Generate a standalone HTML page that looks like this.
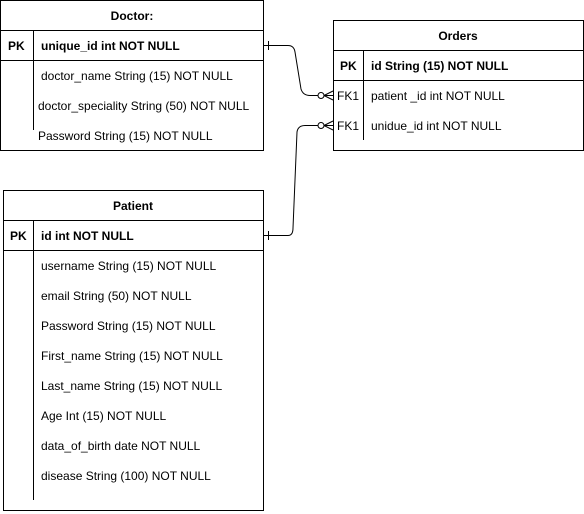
<!DOCTYPE html>
<html><head><style>
body{margin:0;width:584px;height:511px;background:#fff;font-family:"Liberation Sans",Arial,sans-serif;font-size:12px;}
svg text{font-family:"Liberation Sans",Arial,sans-serif;font-size:12px;fill:#000}
</style></head><body>
<svg width="584" height="511" viewBox="0 0 584 511" xmlns="http://www.w3.org/2000/svg">
<g fill="none" stroke="#000" stroke-width="1">
<!-- Doctor -->
<rect x="0.5" y="0.5" width="263" height="150"/>
<line x1="0.5" y1="30.5" x2="263.5" y2="30.5"/>
<line x1="0.5" y1="60.5" x2="263.5" y2="60.5"/>
<line x1="33.5" y1="30.5" x2="33.5" y2="130"/>
<!-- Orders -->
<rect x="333.5" y="20.5" width="250" height="130"/>
<line x1="333.5" y1="50.5" x2="583.5" y2="50.5"/>
<line x1="333.5" y1="80.5" x2="583.5" y2="80.5"/>
<line x1="363.5" y1="50.5" x2="363.5" y2="140"/>
<!-- Patient -->
<rect x="3.5" y="190.5" width="260" height="320"/>
<line x1="3.5" y1="220.5" x2="263.5" y2="220.5"/>
<line x1="3.5" y1="250.5" x2="263.5" y2="250.5"/>
<line x1="33.5" y1="220.5" x2="33.5" y2="500"/>
<!-- connectors -->
<path d="M264 45.5 H288 Q294 45.5 295 52 L301 89 Q303 95.5 310 95.5 H318"/>
<line x1="268.5" y1="41" x2="268.5" y2="50"/>
<circle cx="321" cy="95.5" r="3"/>
<path d="M324 95.5 H333 M324 95.5 L333 91 M324 95.5 L333 100"/>
<path d="M264 235.5 H288 Q293 235.5 293 228 L297 132 Q298 125.5 305 125.5 H318"/>
<line x1="268.5" y1="231" x2="268.5" y2="240"/>
<circle cx="321" cy="125.5" r="3"/>
<path d="M324 125.5 H333 M324 125.5 L333 121 M324 125.5 L333 130"/>
</g>
<g>
<text x="132" y="20" text-anchor="middle" font-weight="bold">Doctor:</text>
<text x="8" y="50" font-weight="bold">PK</text>
<text x="41" y="50" font-weight="bold">unique_id int NOT NULL</text>
<text x="41" y="80">doctor_name String (15) NOT NULL</text>
<text x="38" y="110">doctor_speciality String (50) NOT NULL</text>
<text x="38" y="140">Password String (15) NOT NULL</text>

<text x="458" y="40" text-anchor="middle" font-weight="bold">Orders</text>
<text x="340" y="70" font-weight="bold">PK</text>
<text x="371" y="70" font-weight="bold">id String (15) NOT NULL</text>
<text x="337" y="100">FK1</text>
<text x="371" y="100">patient _id int NOT NULL</text>
<text x="337" y="130">FK1</text>
<text x="371" y="130">unidue_id int NOT NULL</text>

<text x="133" y="210" text-anchor="middle" font-weight="bold">Patient</text>
<text x="10" y="240" font-weight="bold">PK</text>
<text x="41" y="240" font-weight="bold">id int NOT NULL</text>
<text x="41" y="270">username String (15) NOT NULL</text>
<text x="41" y="300">email String (50) NOT NULL</text>
<text x="41" y="330">Password String (15) NOT NULL</text>
<text x="41" y="360">First_name String (15) NOT NULL</text>
<text x="41" y="390">Last_name String (15) NOT NULL</text>
<text x="41" y="420">Age Int (15) NOT NULL</text>
<text x="41" y="450">data_of_birth date NOT NULL</text>
<text x="41" y="480">disease String (100) NOT NULL</text>
</g>
</svg>
</body></html>
